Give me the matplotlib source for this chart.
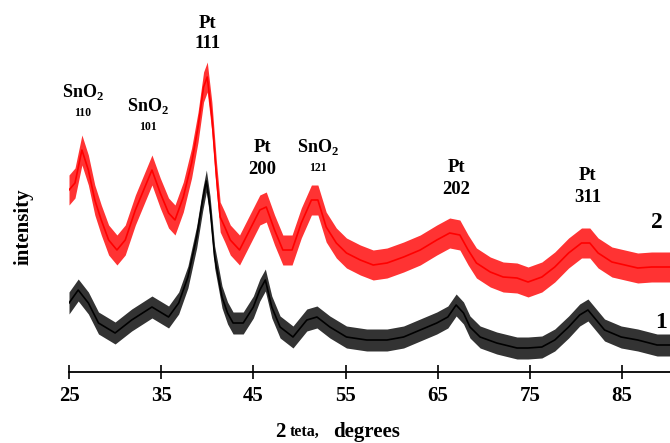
import matplotlib
matplotlib.use("Agg")
import matplotlib.pyplot as plt
import numpy as np

# 2 theta (degrees) and intensity (arb. units)
theta_red = [25.0, 25.65, 26.4, 27.1, 27.8, 28.5, 29.3, 30.2, 31.1, 32.2, 33.1, 34.0,
             34.9, 35.8, 36.5, 37.4, 38.3, 39.0, 39.6, 40.0, 40.5, 41.0, 41.4, 41.9,
             42.5, 43.5, 44.6, 45.7, 46.4, 47.3, 48.2, 49.2, 50.2, 51.3, 52.0, 52.9,
             54.0, 55.1, 56.6, 58.0, 59.5, 61.3, 63.1, 64.9, 66.3, 67.4, 68.3, 69.2,
             70.7, 72.1, 73.6, 74.8, 76.3, 77.7, 79.2, 80.6, 81.5, 82.4, 83.9, 85.3,
             86.7, 88.2, 90.2]
int_red = [182, 189, 222, 202, 172, 152, 132, 122, 132, 162, 182, 202,
           179, 159, 152, 175, 209, 245, 285, 295, 255, 195, 155, 145,
           132, 122, 142, 162, 165, 142, 122, 122, 149, 172, 172, 145,
           129, 119, 112, 107, 109, 115, 122, 132, 139, 137, 122, 109,
           100, 95, 94, 90, 95, 105, 119, 129, 129, 119, 110, 107,
           104, 105, 105]

theta_black = [25.0, 26.0, 27.1, 28.2, 30.0, 31.8, 34.0, 35.8, 36.9, 37.9, 38.85, 39.5,
               39.9, 40.3, 40.8, 41.6, 42.2, 42.8, 43.9, 45.0, 45.7, 46.3, 47.0, 47.9,
               49.3, 50.8, 51.9, 53.3, 55.1, 57.3, 59.5, 61.3, 63.1, 64.9, 66.1, 67.0,
               67.8, 68.5, 69.6, 71.4, 73.6, 74.8, 76.3, 77.7, 79.2, 80.4, 81.3, 82.2,
               83.1, 84.9, 86.7, 88.8, 90.2]
int_black = [69, 82, 69, 49, 39, 52, 65, 55, 69, 95, 135, 172,
             191, 165, 115, 75, 59, 49, 49, 65, 82, 92, 65, 45,
             35, 52, 55, 45, 35, 32, 32, 35, 42, 49, 55, 67,
             59, 45, 35, 29, 24, 24, 25, 32, 45, 57, 62, 52,
             42, 35, 32, 27, 27]

# half-width of the noise band seen around each pattern
spread_red = 15
spread_black = 11

# peak labels: (index, theta, height)
sno2_labels = [("110", 26.5, 280), ("101", 33.6, 266), ("121", 52.0, 225)]
pt_labels = [("111", 40.0, 349), ("200", 46.0, 224), ("202", 67.0, 204), ("311", 81.3, 196)]

plt.rcParams['font.family'] = ['Liberation Serif', 'DejaVu Serif']
plt.rcParams['mathtext.fontset'] = 'custom'
plt.rcParams['mathtext.rm'] = 'Liberation Serif:bold'
plt.rcParams['mathtext.bf'] = 'Liberation Serif:bold'

fig = plt.figure(figsize=(6.7, 4.43), dpi=100)
ax = fig.add_axes([69 / 670, 71 / 443, 601 / 670, 372 / 443])

for th, it, col, sp in [(theta_red, int_red, '#ff0000', spread_red),
                        (theta_black, int_black, '#000000', spread_black)]:
    th = np.array(th)
    it = np.array(it, dtype=float)
    ax.fill_between(th, it - sp, it + sp, color=col, alpha=0.8, linewidth=0)
    ax.plot(th, it, color=col, linewidth=1.2)

for idx, x, y in sno2_labels:
    ax.text(x, y, r'SnO$_\mathrm{2}$', ha='center', va='center', fontsize=13,
            fontweight='bold')
    ax.text(x, y - 21, idx, ha='center', va='center', fontsize=8.5, fontweight='bold')

for idx, x, y in pt_labels:
    ax.text(x, y, 'Pt', ha='center', va='center', fontsize=13.5, fontweight='bold')
    ax.text(x, y - 21, idx, ha='center', va='center', fontsize=13.5, fontweight='bold')

ax.text(88.8, 149, '2', ha='center', va='center', fontsize=17, fontweight='bold')
ax.text(89.2, 50, '1', ha='center', va='center', fontsize=17, fontweight='bold')

ax.set_xlim(25, 90.2)
ax.set_ylim(0, 372)
ax.set_xticks(np.arange(25, 90, 10))
ax.set_yticks([])
for s in ['top', 'right', 'left']:
    ax.spines[s].set_visible(False)
ax.spines['bottom'].set_linewidth(1.3)
ax.tick_params(axis='x', direction='inout', length=10, width=1.2, pad=5,
               labelsize=15)
for lab in ax.get_xticklabels():
    lab.set_fontweight('bold')

fig.text(285 / 670, 1 - 432 / 443, '2', ha='right', va='center', fontsize=15,
         fontweight='bold')
fig.text(290 / 670, 1 - 432 / 443, 'teta,', ha='left', va='center', fontsize=11.5,
         fontweight='bold')
fig.text(333 / 670, 1 - 432 / 443, 'degrees', ha='left', va='center', fontsize=15,
         fontweight='bold')
fig.text(24 / 670, 1 - 227 / 443, 'intensity', ha='center', va='center',
         rotation=90, fontsize=15, fontweight='bold')

fig.savefig('out.png', dpi=100)
